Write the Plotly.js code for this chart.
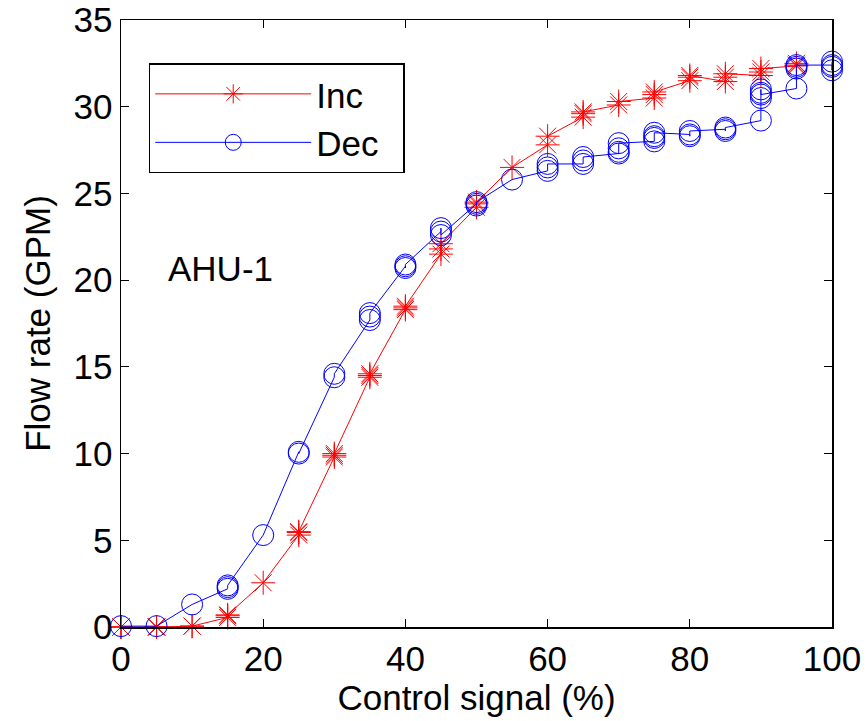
<!DOCTYPE html>
<html>
<head>
<meta charset="utf-8">
<script src="https://cdn.plot.ly/plotly-3.0.1.min.js"></script>
<style>html,body{margin:0;padding:0;background:#fff;}#chart{width:868px;height:721px;}</style>
</head>
<body>
<div id="chart"></div>
<script>
// Increasing control signal (sequence of samples, several per step)
const incX = [0,0,0, 5,5,5, 10,10, 15,15,15, 20, 25,25,25, 30,30,30, 35,35,35, 40,40,40, 45,45,45, 50,50,50, 55, 60,60, 65,65,65, 70,70, 75,75,75, 80,80,80, 85,85,85, 90,90,90, 95,95,95];
const incY = [0,0,0, 0,0,0, 0.05,0.05, 0.55,0.65,0.7, 2.55, 5.3,5.45,5.5, 9.8,9.9,10.0, 14.4,14.5,14.6, 18.3,18.4,18.5, 21.5,21.8,22.1, 24.2,24.4,24.5, 26.5, 27.8,28.3, 29.4,29.6,29.7, 30.1,30.3, 30.5,30.7,30.85, 31.5,31.7,31.8, 31.45,31.7,31.9, 31.8,32.0,32.2, 32.35,32.4,32.5];

// Decreasing control signal (sequence of samples, several per step)
const decX = [100,100,100,100, 95,95,95,95, 90,90,90,90,90, 85,85,85, 80,80,80, 75,75,75,75, 70,70,70,70, 65,65,65, 60,60,60, 55, 50,50,50, 45,45,45, 40,40,40, 35,35,35, 30,30, 25,25, 20, 15,15,15, 10, 5, 0];
const decY = [32.6,32.3,32.1,32.4, 32.4,32.3,32.2,31.05, 30.7,31.0,30.8,30.5,29.2, 28.8,28.6,28.7, 28.6,28.3,28.4, 28.5,28.2,28.3,28.0, 27.9,27.6,27.4,27.3, 27.1,26.9,26.7, 26.7,26.5,26.3, 25.8, 24.5,24.3,24.4, 22.6,23.0,22.8, 20.9,20.7,20.8, 18.1,17.9,17.7, 14.6,14.4, 10.0,10.1, 5.3, 2.4,2.3,2.2, 1.3, 0.05, 0.05];

const seriesNames = ['Inc', 'Dec'];
const xTicks = [0, 20, 40, 60, 80, 100];
const yTicks = [0, 5, 10, 15, 20, 25, 30, 35];

const FONT = 'Liberation Sans, Arial, Helvetica, sans-serif';
const FS = 35;
const PAD = '\u00a0\u00a0';

const traces = [
  {
    x: incX, y: incY, name: seriesNames[0] + PAD, type: 'scatter', mode: 'lines+markers', cliponaxis: false,
    line: {color: '#FF0000', width: 1},
    marker: {symbol: 'asterisk-open', size: 20, color: '#FF0000', line: {color: '#FF0000', width: 1}}
  },
  {
    x: decX, y: decY, name: seriesNames[1] + PAD, type: 'scatter', mode: 'lines+markers', cliponaxis: false,
    line: {color: '#0000FF', width: 1},
    marker: {symbol: 'circle-open', size: 21, color: '#0000FF', line: {color: '#0000FF', width: 1}}
  }
];

const layout = {
  width: 868, height: 721,
  margin: {l: 121, r: 36, t: 20, b: 94, pad: 0},
  paper_bgcolor: '#fff', plot_bgcolor: '#fff',
  font: {family: FONT, size: FS, color: '#000'},
  showlegend: true,
  legend: {
    x: 0.039, y: 0.929, xanchor: 'left', yanchor: 'top',
    bgcolor: '#fff', bordercolor: '#000', borderwidth: 1.5,
    font: {family: FONT, size: FS, color: '#000'},
    itemwidth: 156, tracegroupgap: 0
  },
  xaxis: {
    range: [0, 100], tickvals: xTicks, ticktext: xTicks.map(String),
    ticks: 'inside', ticklen: 8, tickwidth: 1, tickcolor: '#000',
    showline: true, linecolor: '#000', linewidth: 1.5, mirror: 'ticks',
    showgrid: false, zeroline: false,
    tickfont: {family: FONT, size: FS, color: '#000'},
    title: {text: 'Control signal (%)', font: {family: FONT, size: FS, color: '#000'}, standoff: 6}
  },
  yaxis: {
    range: [0, 35], tickvals: yTicks, ticktext: yTicks.map(String),
    ticks: 'inside', ticklen: 8, tickwidth: 1, tickcolor: '#000',
    showline: true, linecolor: '#000', linewidth: 1.5, mirror: 'ticks',
    showgrid: false, zeroline: false,
    tickfont: {family: FONT, size: FS, color: '#000'},
    title: {text: 'Flow rate (GPM)', font: {family: FONT, size: FS, color: '#000'}, standoff: 12}
  },
  annotations: [{
    x: 6.3, y: 20.7, xref: 'x', yref: 'y', xanchor: 'left', yanchor: 'middle',
    text: 'AHU-1', showarrow: false, font: {family: FONT, size: FS, color: '#000'}
  }]
};

Plotly.newPlot('chart', traces, layout, {displayModeBar: false, staticPlot: true});
</script>
</body>
</html>
